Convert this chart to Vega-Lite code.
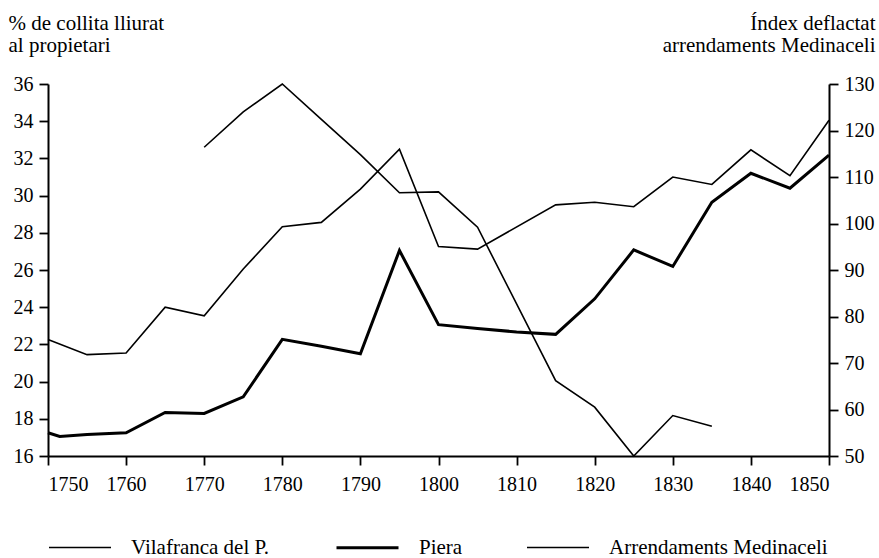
{
  "$schema": "https://vega.github.io/schema/vega-lite/v6.json",
  "width": 781,
  "height": 372,
  "autosize": {"type": "none"},
  "padding": {"left": 48, "top": 84, "right": 50, "bottom": 102},
  "background": "white",
  "config": {
    "view": {"stroke": null},
    "font": "Liberation Serif, Times New Roman, serif",
    "axis": {"grid": false, "domainColor": "black", "tickColor": "black", "labelColor": "black", "titleColor": "black", "labelFont": "Liberation Serif, Times New Roman, serif", "titleFont": "Liberation Serif, Times New Roman, serif", "domainWidth": 2, "tickWidth": 1.8},
    "legend": {"labelFont": "Liberation Serif, Times New Roman, serif"}
  },
  "data": {"values": [
    {"year": 1750, "serie": "Vilafranca del P.", "value": 22.26},
    {"year": 1755, "serie": "Vilafranca del P.", "value": 21.45},
    {"year": 1760, "serie": "Vilafranca del P.", "value": 21.54},
    {"year": 1765, "serie": "Vilafranca del P.", "value": 24.0},
    {"year": 1770, "serie": "Vilafranca del P.", "value": 23.54},
    {"year": 1775, "serie": "Vilafranca del P.", "value": 26.05},
    {"year": 1780, "serie": "Vilafranca del P.", "value": 28.33},
    {"year": 1785, "serie": "Vilafranca del P.", "value": 28.56},
    {"year": 1790, "serie": "Vilafranca del P.", "value": 30.35},
    {"year": 1795, "serie": "Vilafranca del P.", "value": 32.5},
    {"year": 1800, "serie": "Vilafranca del P.", "value": 27.26},
    {"year": 1805, "serie": "Vilafranca del P.", "value": 27.12},
    {"year": 1815, "serie": "Vilafranca del P.", "value": 29.5},
    {"year": 1820, "serie": "Vilafranca del P.", "value": 29.64},
    {"year": 1825, "serie": "Vilafranca del P.", "value": 29.4},
    {"year": 1830, "serie": "Vilafranca del P.", "value": 31.0},
    {"year": 1835, "serie": "Vilafranca del P.", "value": 30.6},
    {"year": 1840, "serie": "Vilafranca del P.", "value": 32.46},
    {"year": 1845, "serie": "Vilafranca del P.", "value": 31.07},
    {"year": 1850, "serie": "Vilafranca del P.", "value": 34.05},
    {"year": 1750, "serie": "Piera", "value": 17.25},
    {"year": 1751.5, "serie": "Piera", "value": 17.05},
    {"year": 1755, "serie": "Piera", "value": 17.15},
    {"year": 1760, "serie": "Piera", "value": 17.25},
    {"year": 1765, "serie": "Piera", "value": 18.34},
    {"year": 1770, "serie": "Piera", "value": 18.29},
    {"year": 1775, "serie": "Piera", "value": 19.18},
    {"year": 1780, "serie": "Piera", "value": 22.27},
    {"year": 1785, "serie": "Piera", "value": 21.9},
    {"year": 1790, "serie": "Piera", "value": 21.5},
    {"year": 1795, "serie": "Piera", "value": 27.05},
    {"year": 1800, "serie": "Piera", "value": 23.06},
    {"year": 1805, "serie": "Piera", "value": 22.85},
    {"year": 1810, "serie": "Piera", "value": 22.67},
    {"year": 1815, "serie": "Piera", "value": 22.54},
    {"year": 1820, "serie": "Piera", "value": 24.45},
    {"year": 1825, "serie": "Piera", "value": 27.08},
    {"year": 1830, "serie": "Piera", "value": 26.19},
    {"year": 1835, "serie": "Piera", "value": 29.64},
    {"year": 1840, "serie": "Piera", "value": 31.2},
    {"year": 1845, "serie": "Piera", "value": 30.4},
    {"year": 1850, "serie": "Piera", "value": 32.18},
    {"year": 1770, "serie": "Arrendaments Medinaceli", "value": 116.4},
    {"year": 1775, "serie": "Arrendaments Medinaceli", "value": 124.0},
    {"year": 1780, "serie": "Arrendaments Medinaceli", "value": 130.0},
    {"year": 1785, "serie": "Arrendaments Medinaceli", "value": 122.4},
    {"year": 1790, "serie": "Arrendaments Medinaceli", "value": 114.8},
    {"year": 1795, "serie": "Arrendaments Medinaceli", "value": 106.6},
    {"year": 1800, "serie": "Arrendaments Medinaceli", "value": 106.8},
    {"year": 1805, "serie": "Arrendaments Medinaceli", "value": 99.2},
    {"year": 1815, "serie": "Arrendaments Medinaceli", "value": 66.2},
    {"year": 1820, "serie": "Arrendaments Medinaceli", "value": 60.5},
    {"year": 1825, "serie": "Arrendaments Medinaceli", "value": 50.0},
    {"year": 1830, "serie": "Arrendaments Medinaceli", "value": 58.7},
    {"year": 1835, "serie": "Arrendaments Medinaceli", "value": 56.4}
  ]},
  "encoding": {
    "x": {"field": "year", "type": "quantitative", "scale": {"domain": [1750, 1850], "nice": false, "zero": false},
      "axis": {"values": [1750, 1760, 1770, 1780, 1790, 1800, 1810, 1820, 1830, 1840, 1850], "format": "d", "title": null, "labelFontSize": 20, "tickSize": 9, "labelPadding": 9}},
    "strokeWidth": {"field": "serie", "type": "nominal",
      "scale": {"type": "ordinal", "domain": ["Vilafranca del P.", "Piera", "Arrendaments Medinaceli"], "range": [1.6, 3, 1.6]},
      "legend": {"title": null, "orient": "none", "direction": "horizontal", "legendX": 0, "legendY": 431, "symbolType": "stroke", "symbolSize": 3844, "symbolStrokeColor": "black", "labelFontSize": 21, "labelColor": "black", "labelLimit": 400, "columnPadding": 60, "labelOffset": 19}}
  },
  "layer": [
    {
      "transform": [{"filter": "datum.serie !== 'Arrendaments Medinaceli'"}],
      "mark": {"type": "line", "color": "black"},
      "encoding": {
        "detail": {"field": "serie"},
        "y": {"field": "value", "type": "quantitative", "scale": {"domain": [16, 36], "nice": false, "zero": false},
          "axis": {"orient": "left", "values": [16, 18, 20, 22, 24, 26, 28, 30, 32, 34, 36], "labelFontSize": 20, "tickSize": 9, "labelPadding": 6,
            "title": ["% de collita lliurat", "al propietari"], "titleAngle": 0, "titleAlign": "left", "titleBaseline": "alphabetic", "titleX": -40, "titleY": -55, "titleFontSize": 21, "titleFontWeight": "normal", "titleLineHeight": 22}}
      }
    },
    {
      "transform": [{"filter": "datum.serie === 'Arrendaments Medinaceli'"}],
      "mark": {"type": "line", "color": "black"},
      "encoding": {
        "y": {"field": "value", "type": "quantitative", "scale": {"domain": [50, 130], "nice": false, "zero": false},
          "axis": {"orient": "right", "values": [50, 60, 70, 80, 90, 100, 110, 120, 130], "labelFontSize": 20, "tickSize": 9, "labelPadding": 6,
            "title": ["Índex deflactat", "arrendaments Medinaceli"], "titleAngle": 0, "titleAlign": "right", "titleBaseline": "alphabetic", "titleX": 46, "titleY": -55, "titleFontSize": 21, "titleFontWeight": "normal", "titleLineHeight": 22}}
      }
    }
  ],
  "resolve": {"scale": {"y": "independent"}}
}
